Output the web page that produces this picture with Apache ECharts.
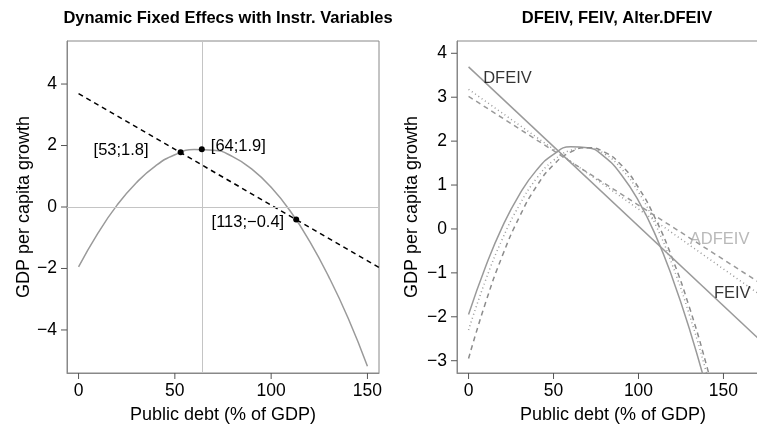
<!DOCTYPE html>
<html>
<head>
<meta charset="utf-8">
<script src="https://cdn.jsdelivr.net/npm/echarts@6/dist/echarts.min.js"></script>
<style>
  html, body { margin: 0; padding: 0; background: #fff; }
  #chart { width: 757px; height: 425px; }
</style>
</head>
<body>
<div id="chart"></div>
<script>
// debt grid (x) shared by the three quadratic curves
const debt = [0, 10, 20, 30, 40, 50, 60, 70, 80, 90, 100, 110, 120, 130, 140, 150];
const dfeivCurve  = [-1.95, -0.86, 0.06, 0.79, 1.34, 1.70, 1.87, 1.85, 1.64, 1.23, 0.64, -0.14, -1.12, -2.28, -3.62, -5.18];
const feivCurve   = [-2.30, -1.17, -0.22, 0.55, 1.15, 1.56, 1.79, 1.85, 1.71, 1.37, 0.84, 0.10, -0.83, -1.96, -3.28, -4.80];
const adfeivCurve = [-2.95, -1.68, -0.60, 0.28, 0.97, 1.46, 1.75, 1.85, 1.75, 1.45, 0.94, 0.23, -0.68, -1.79, -3.10, -4.61];

// straight fits, end points
const lineX = [0, 180];
const dfeivLine  = [3.69, -2.84];
const feivLine   = [3.18, -1.73];
const adfeivLine = [3.02, -1.44];

// marked points (left panel)
const markX = [53, 64, 113];
const markY = [1.78, 1.88, -0.41];
const markText = ['[53;1.8]', '[64;1.9]', '[113;\u22120.4]'];

// curve name labels (right panel)
const nameText = ['DFEIV', 'ADFEIV', 'FEIV'];
const nameX = [8.6, 130.2, 144.4];
const nameY = [3.42, -0.23, -1.46];

const xTicks = [0, 50, 100, 150];
const yTicksL = [-4, -2, 0, 2, 4];
const yTicksR = [-3, -2, -1, 0, 1, 2, 3, 4];

// axis ranges (R style, 4% padding)
const xRangeL = [-6, 156];
const yRangeL = [-5.4, 5.4];
const xRangeR = [-6.8, 176.8];
const yRangeR = [-3.28, 4.28];

const font = 'Liberation Sans, Arial, sans-serif';
const pair = (xs, ys) => xs.map((x, i) => [x, ys[i]]);
const minus = v => String(v).replace('-', '\u2212');

const grey = '#9a9a9a';

const mkX = (gi, range) => ({
  gridIndex: gi, type: 'value', min: range[0], max: range[1],
  name: 'Public debt (% of GDP)', nameLocation: 'middle', nameGap: 33,
  nameTextStyle: { fontFamily: font, fontSize: 18, color: '#000' },
  axisLine: { show: true, onZero: false, lineStyle: { color: '#888' } },
  axisTick: { show: false },
  axisLabel: { customValues: xTicks, fontFamily: font, fontSize: 17.5, color: '#000', margin: 9, formatter: minus },
  splitLine: { show: false }
});
const mkY = (gi, range, ticks, gap) => ({
  gridIndex: gi, type: 'value', min: range[0], max: range[1],
  name: 'GDP per capita growth', nameLocation: 'middle', nameGap: gap,
  nameTextStyle: { fontFamily: font, fontSize: 18, color: '#000' },
  axisLine: { show: true, onZero: false, lineStyle: { color: '#888' } },
  axisTick: { show: false },
  axisLabel: { customValues: ticks, fontFamily: font, fontSize: 17.5, color: '#000', margin: 10, formatter: minus },
  splitLine: { show: false }
});

// outward tick marks drawn with a custom series at the tick values
const tickSeries = (gi, data, dx, dy) => ({
  type: 'custom', xAxisIndex: gi, yAxisIndex: gi, silent: true, clip: false, z: 20,
  data: data,
  renderItem: (params, api) => {
    const p = api.coord([api.value(0), api.value(1)]);
    return {
      type: 'line',
      shape: { x1: p[0], y1: p[1], x2: p[0] + dx, y2: p[1] + dy },
      style: { stroke: '#555', lineWidth: 1 }
    };
  }
});
const ticks = (gi, xr, yr, yt) => [
  tickSeries(gi, xTicks.map(v => [v, yr[0]]), 0, 6),
  tickSeries(gi, yt.map(v => [xr[0], v]), -6, 0)
];

const curve = (gi, ys, type, color) => ({
  type: 'line', xAxisIndex: gi, yAxisIndex: gi, data: pair(debt, ys),
  smooth: true, showSymbol: false, silent: true,
  lineStyle: { color: color || grey, width: 1.5, type: type }
});
const straight = (gi, ys, type, color) => ({
  type: 'line', xAxisIndex: gi, yAxisIndex: gi, data: pair(lineX, ys),
  showSymbol: false, silent: true,
  lineStyle: { color: color || grey, width: 1.5, type: type }
});

const markData = markX.map((x, i) => ({
  value: [x, markY[i]],
  label: [
    { position: 'left', distance: 29, offset: [0, -2] },
    { position: 'right', distance: 6, offset: [0, -3] },
    { position: 'left', distance: 9, offset: [0, 3] }
  ][i]
}));
const nameData = nameX.map((x, i) => ({
  value: [x, nameY[i]],
  label: { color: nameText[i] === 'ADFEIV' ? '#a8a8a8' : '#000' }
}));

const chart = echarts.init(document.getElementById('chart'));
chart.setOption({
  animation: false,
  title: [
    { text: 'Dynamic Fixed Effecs with Instr. Variables', left: 223, top: 5, textAlign: 'center',
      textStyle: { fontFamily: font, fontSize: 16.5, fontWeight: 'bold', color: '#000' } },
    { text: 'DFEIV, FEIV, Alter.DFEIV', left: 612, top: 5, textAlign: 'center',
      textStyle: { fontFamily: font, fontSize: 16.5, fontWeight: 'bold', color: '#000' } }
  ],
  grid: [
    { left: 67, top: 41, width: 312, bottom: 52, show: true, borderColor: '#888', borderWidth: 1,
      outerBoundsMode: 'none', containLabel: false },
    { left: 457, top: 41, width: 312, bottom: 52, show: true, borderColor: '#888', borderWidth: 1,
      outerBoundsMode: 'none', containLabel: false }
  ],
  xAxis: [mkX(0, xRangeL), mkX(1, xRangeR)],
  yAxis: [mkY(0, yRangeL, yTicksL, 34), mkY(1, yRangeR, yTicksR, 36)],
  series: [
    // left panel
    {
      type: 'line', xAxisIndex: 0, yAxisIndex: 0, data: [], silent: true,
      markLine: {
        symbol: 'none', silent: true, label: { show: false },
        lineStyle: { color: '#c4c4c4', width: 1, type: 'solid' },
        data: [{ xAxis: 64 }, { yAxis: 0 }]
      }
    },
    curve(0, dfeivCurve, 'solid'),
    straight(0, dfeivLine, [5, 4], '#000'),
    {
      type: 'scatter', xAxisIndex: 0, yAxisIndex: 0, silent: true, z: 10,
      data: markData, symbolSize: 6, itemStyle: { color: '#000', opacity: 1 },
      label: {
        show: true, fontFamily: font, fontSize: 16.5, color: '#000',
        formatter: p => markText[p.dataIndex]
      },
      emphasis: { disabled: true }
    },
    ...ticks(0, xRangeL, yRangeL, yTicksL),
    // right panel
    curve(1, dfeivCurve, 'solid'),
    curve(1, feivCurve, [1, 3]),
    curve(1, adfeivCurve, [5, 4], '#8c8c8c'),
    straight(1, dfeivLine, 'solid'),
    straight(1, feivLine, [1, 3]),
    straight(1, adfeivLine, [5, 4]),
    {
      type: 'scatter', xAxisIndex: 1, yAxisIndex: 1, silent: true, z: 10,
      data: nameData, symbolSize: 0,
      label: {
        show: true, position: 'inside', align: 'left', fontFamily: font, fontSize: 16.5,
        formatter: p => nameText[p.dataIndex]
      },
      emphasis: { disabled: true }
    },
    ...ticks(1, xRangeR, yRangeR, yTicksR)
  ]
});
</script>
</body>
</html>
